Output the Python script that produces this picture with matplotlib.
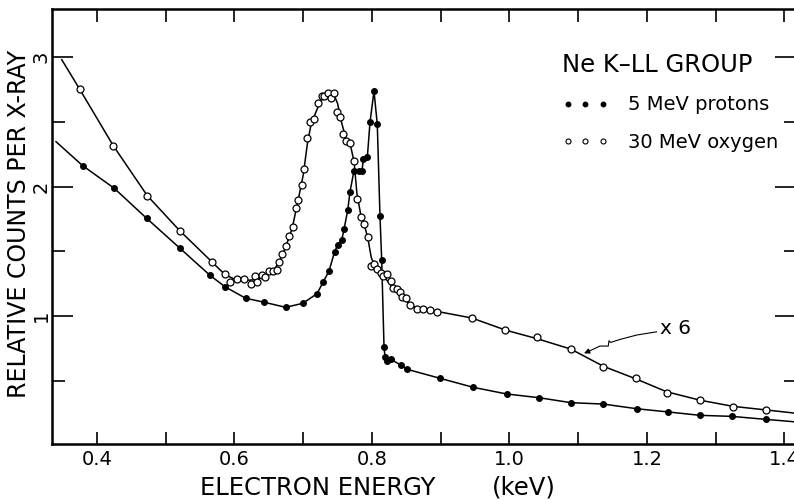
import matplotlib
matplotlib.use("Agg")
import matplotlib.pyplot as plt
from matplotlib.lines import Line2D
from matplotlib.ticker import MultipleLocator, FixedLocator

# ---------------- data ----------------
# 5 MeV protons (filled dots)
proton_x = [0.3792, 0.4252, 0.4723, 0.5203, 0.5644, 0.5862, 0.6163, 0.6434, 0.6745,
            0.6992, 0.7200, 0.7292, 0.7375, 0.7455, 0.7501, 0.7560, 0.7593, 0.7647,
            0.7680, 0.7738, 0.7806, 0.7855, 0.7874, 0.7932, 0.7971, 0.8029, 0.8077,
            0.8116, 0.8141, 0.8175, 0.8190, 0.8223, 0.8272, 0.8417, 0.8514, 0.8989,
            0.9474, 0.9959, 1.0430, 1.0890, 1.1365, 1.1850, 1.2310, 1.2770, 1.3230,
            1.3726]
proton_y = [2.161, 1.986, 1.754, 1.525, 1.314, 1.226, 1.137, 1.106, 1.067,
            1.098, 1.172, 1.265, 1.347, 1.495, 1.548, 1.587, 1.669, 1.818,
            1.960, 2.122, 2.122, 2.122, 2.212, 2.225, 2.496, 2.737, 2.480,
            1.775, 1.432, 0.758, 0.686, 0.652, 0.666, 0.622, 0.588, 0.519,
            0.449, 0.398, 0.369, 0.331, 0.320, 0.284, 0.259, 0.233, 0.225,
            0.202]
# ends of the drawn proton curve beyond the first / last point
proton_curve_start = (0.3404, 2.346)
proton_curve_end = (1.4167, 0.182)

# 30 MeV oxygen (open circles), x 6
oxygen_x = [0.3750, 0.4237, 0.4732, 0.5203, 0.5670, 0.5860, 0.5935, 0.6040, 0.6140,
            0.6240, 0.6300, 0.6330, 0.6396, 0.6444, 0.6506, 0.6565, 0.6623, 0.6647,
            0.6695, 0.6750, 0.6793, 0.6846, 0.6890, 0.6928, 0.6977, 0.7016, 0.7059,
            0.7098, 0.7161, 0.7219, 0.7268, 0.7306, 0.7356, 0.7404, 0.7452, 0.7487,
            0.7535, 0.7574, 0.7622, 0.7680, 0.7738, 0.7786, 0.7841, 0.7889, 0.7937,
            0.7985, 0.8034, 0.8077, 0.8127, 0.8165, 0.8214, 0.8272, 0.8301, 0.8359,
            0.8407, 0.8441, 0.8490, 0.8553, 0.8650, 0.8746, 0.8844, 0.8941, 0.9450,
            0.9935, 1.0405, 1.0890, 1.1365, 1.1836, 1.2286, 1.2770, 1.3255, 1.3726]
oxygen_y = [2.750, 2.315, 1.929, 1.659, 1.419, 1.324, 1.260, 1.286, 1.286,
            1.245, 1.309, 1.265, 1.317, 1.299, 1.350, 1.350, 1.355, 1.419,
            1.479, 1.540, 1.618, 1.685, 1.832, 1.895, 2.012, 2.133, 2.372,
            2.500, 2.521, 2.642, 2.701, 2.701, 2.724, 2.681, 2.724, 2.573,
            2.539, 2.403, 2.351, 2.334, 2.197, 1.900, 1.767, 1.708, 1.612,
            1.386, 1.402, 1.363, 1.335, 1.309, 1.324, 1.273, 1.214, 1.208,
            1.188, 1.149, 1.137, 1.085, 1.054, 1.052, 1.046, 1.033, 0.982,
            0.892, 0.840, 0.748, 0.609, 0.519, 0.408, 0.351, 0.300, 0.272]
# hand-drawn smooth curve through the oxygen points
oxygen_curve_x = [0.3487, 0.375, 0.4237, 0.4732, 0.5203, 0.567, 0.586, 0.600, 0.615,
                  0.630, 0.645, 0.657, 0.665, 0.675, 0.684, 0.692, 0.700, 0.706,
                  0.711, 0.718, 0.726, 0.735, 0.744, 0.750, 0.756, 0.762, 0.769,
                  0.774, 0.778, 0.784, 0.789, 0.794, 0.799, 0.805, 0.815, 0.830,
                  0.845, 0.857, 0.870, 0.895, 0.945, 0.995, 1.040, 1.089, 1.1365,
                  1.1836, 1.2286, 1.277, 1.3255, 1.3726, 1.4167]
oxygen_curve_y = [2.98, 2.75, 2.315, 1.929, 1.659, 1.419, 1.32, 1.285, 1.275,
                  1.28, 1.305, 1.35, 1.42, 1.54, 1.68, 1.88, 2.09, 2.33,
                  2.47, 2.57, 2.67, 2.72, 2.72, 2.64, 2.49, 2.37, 2.31,
                  2.19, 1.95, 1.77, 1.70, 1.60, 1.45, 1.38, 1.32, 1.22,
                  1.14, 1.08, 1.052, 1.035, 0.985, 0.89, 0.825, 0.745, 0.612,
                  0.515, 0.415, 0.350, 0.302, 0.275, 0.249]

# "x 6" leader line (data units)
leader_x = [1.2140, 1.1849, 1.1607, 1.1471, 1.1447, 1.1437, 1.1316, 1.1171]
leader_y = [0.878, 0.853, 0.819, 0.796, 0.809, 0.768, 0.768, 0.732]
leader_tip = (1.1084, 0.712)

x_ticks = [0.4, 0.6, 0.8, 1.0, 1.2, 1.4]
x_ticklabels = ["0.4", "0.6", "0.8", "1.0", "1.2", "1.4"]
y_ticks = [1, 2, 3]
y_ticklabels = ["1", "2", "3"]

# ---------------- figure ----------------
W, H = 794, 500
fig = plt.figure(figsize=(W / 100, H / 100), dpi=100)
ax = fig.add_axes([52 / W, (H - 444) / H, (796 - 52) / W, (444 - 9) / H])
ax.set_xlim(0.33455, 1.41673)
ax.set_ylim(0.0116, 3.371)

lw = 1.1
ax.plot([proton_curve_start[0]] + proton_x + [proton_curve_end[0]],
        [proton_curve_start[1]] + proton_y + [proton_curve_end[1]],
        color="black", lw=lw, zorder=2)
ax.plot(proton_x, proton_y, ls="none", marker="o", ms=4.0, mfc="black",
        mec="black", zorder=3)
ax.plot(oxygen_curve_x, oxygen_curve_y, color="black", lw=lw, zorder=2)
ax.plot(oxygen_x, oxygen_y, ls="none", marker="o", ms=5.0, mfc="white",
        mec="black", mew=0.9, zorder=3)

# leader for "x 6"
ax.plot(leader_x, leader_y, color="black", lw=0.8)
ax.annotate("", xy=leader_tip, xytext=(leader_x[-1], leader_y[-1]),
            arrowprops=dict(arrowstyle="-|>", lw=0.8, color="black",
                            mutation_scale=8, shrinkA=0, shrinkB=0))
ax.text(1.2195, 0.905, "x 6", fontsize=14.5, va="center", ha="left")

# spines & ticks
for s in ["left", "bottom", "top"]:
    ax.spines[s].set_linewidth(1.8)
ax.spines["right"].set_visible(False)

ax.xaxis.set_major_locator(FixedLocator(x_ticks))
ax.set_xticklabels(x_ticklabels, fontsize=14)
ax.xaxis.set_minor_locator(MultipleLocator(0.1))
ax.tick_params(axis="x", which="both", direction="in", top=True, bottom=True,
               length=9, width=1.2, pad=4)
ax.yaxis.set_major_locator(FixedLocator(y_ticks))
ax.set_yticklabels(y_ticklabels, fontsize=14, rotation=90, va="center")
ax.yaxis.set_minor_locator(MultipleLocator(0.5))
ax.tick_params(axis="y", which="major", direction="in", left=True, right=True,
               length=15, width=1.2, pad=1)
ax.tick_params(axis="y", which="minor", direction="in", left=True, right=True,
               length=9, width=1.2)

# axis labels
fig.text(19 / W, 1 - 224 / H, "RELATIVE COUNTS PER X-RAY", rotation=90,
         fontsize=17, ha="center", va="center")
fig.text(318 / W, 1 - 488 / H, "ELECTRON ENERGY", fontsize=17.5,
         ha="center", va="center")
fig.text(524 / W, 1 - 488 / H, "(keV)", fontsize=17.5, ha="center", va="center")

# legend
handles = [Line2D([], [], ls="none", marker="o", ms=3.2, mfc="black", mec="black"),
           Line2D([], [], ls="none", marker="o", ms=3.6, mfc="white", mec="black",
                  mew=0.8)]
leg = ax.legend(handles, ["5 MeV protons", "30 MeV oxygen"], numpoints=3,
                frameon=False, fontsize=14, title="Ne K\u2013LL GROUP",
                title_fontproperties={"size": 17.5}, alignment="left",
                handlelength=2.4, handletextpad=1.0, labelspacing=0.95,
                loc="upper left", bbox_to_anchor=(562 / W, 1 - 53 / H),
                bbox_transform=fig.transFigure, borderpad=0, borderaxespad=0)

fig.savefig("out.png", dpi=100)
